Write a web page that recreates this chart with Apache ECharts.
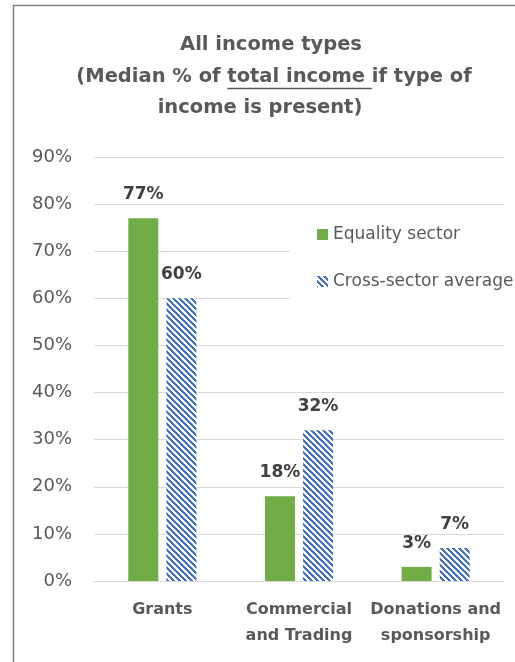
<!DOCTYPE html>
<html>
<head>
<meta charset="utf-8">
<script src="https://cdn.jsdelivr.net/npm/echarts@6/dist/echarts.min.js"></script>
<style>
    html, body { margin: 0; padding: 0; background: #fff; }
    #main { width: 515px; height: 662px; }
</style>
</head>
<body>
<div id="main"></div>
<script>
const categories = ['Grants', 'Commercial\nand Trading', 'Donations and\nsponsorship']
const equalityValues = [77, 18, 3]
const crossSectorValues = [60, 32, 7]
const seriesNames = ['Equality sector', 'Cross-sector average']
const titleLines = ['All income types', '(Median % of total income if type of', 'income is present)']

const FONT = '"DejaVu Sans", "Open Sans", sans-serif'

// blue diagonal stripes like the excel pattern fill
function stripePattern() {
    const n = 6
    const c = document.createElement('canvas')
    c.width = n
    c.height = n
    const ctx = c.getContext('2d')
    ctx.fillStyle = '#fff'
    ctx.fillRect(0, 0, n, n)
    ctx.fillStyle = '#4472C4'
    for (let y = 0; y < n; y++) {
        for (let x = 0; x < n; x++) {
            if (((x - y) % n + n) % n < n / 2) ctx.fillRect(x, y, 1, 1)
        }
    }
    return c
}

function measure(text, font) {
    const ctx = document.createElement('canvas').getContext('2d')
    ctx.font = font
    return ctx.measureText(text).width
}

const titleSize = 19.5
const titleFont = 'bold ' + titleSize + 'px ' + FONT
const titleCenters = [271, 274, 260]
const titleMid = [45, 77, 108]
const line2Width = measure(titleLines[1], titleFont)
const ulStart = titleCenters[1] - line2Width / 2 + measure('(Median % of ', titleFont)
const ulEnd = ulStart + measure('total income ', titleFont)

const labelStyle = {
    show: true,
    position: 'top',
    distance: 15,
    formatter: '{c}%',
    color: '#404040',
    fontFamily: FONT,
    fontWeight: 'bold',
    fontSize: 17
}

const titleTexts = titleLines.map(function (t, i) {
    return {
        type: 'text',
        x: titleCenters[i],
        y: titleMid[i],
        silent: true,
        style: {
            text: t,
            align: 'center',
            verticalAlign: 'middle',
            fill: '#595959',
            font: titleFont
        }
    }
})

const myChart = echarts.init(document.getElementById('main'))
myChart.setOption({
    animation: false,
    backgroundColor: '#fff',
    graphic: [
        {
            type: 'rect',
            shape: { x: 13.5, y: 5.5, width: 540, height: 700 },
            style: { fill: null, stroke: '#808080', lineWidth: 1.5 },
            silent: true,
            z: -1
        },
        {
            type: 'line',
            shape: { x1: ulStart, y1: titleMid[1] + 11.5, x2: ulEnd, y2: titleMid[1] + 11.5 },
            style: { stroke: '#595959', lineWidth: 1.5 },
            silent: true
        }
    ].concat(titleTexts),
    legend: {
        orient: 'vertical',
        left: 290,
        top: 212,
        padding: [14, 10, 14, 27],
        backgroundColor: '#fff',
        itemGap: 30,
        itemWidth: 11,
        itemHeight: 11,
        icon: 'rect',
        textStyle: {
            color: '#595959',
            fontFamily: FONT,
            fontSize: 17
        },
        data: seriesNames,
        z: 10
    },
    grid: {
        left: 94,
        right: 11,
        top: 157,
        bottom: 81,
        containLabel: false
    },
    xAxis: {
        type: 'category',
        data: categories,
        axisLine: { lineStyle: { color: '#d9d9d9', width: 1 } },
        axisTick: { show: false },
        axisLabel: {
            interval: 0,
            margin: 16,
            color: '#595959',
            fontFamily: FONT,
            fontWeight: 'bold',
            fontSize: 16,
            lineHeight: 26
        }
    },
    yAxis: {
        type: 'value',
        min: 0,
        max: 90,
        interval: 10,
        axisLine: { show: false },
        axisTick: { show: false },
        splitLine: { lineStyle: { color: '#d9d9d9', width: 1 } },
        axisLabel: {
            formatter: '{value}%',
            margin: 22,
            color: '#595959',
            fontFamily: FONT,
            fontSize: 18
        }
    },
    series: [
        {
            name: seriesNames[0],
            type: 'bar',
            data: equalityValues,
            barWidth: 30,
            barGap: '27%',
            itemStyle: { color: '#70AD47' },
            label: labelStyle
        },
        {
            name: seriesNames[1],
            type: 'bar',
            data: crossSectorValues,
            barWidth: 30,
            itemStyle: { color: { image: stripePattern(), repeat: 'repeat' } },
            label: labelStyle
        }
    ]
})
</script>
</body>
</html>
